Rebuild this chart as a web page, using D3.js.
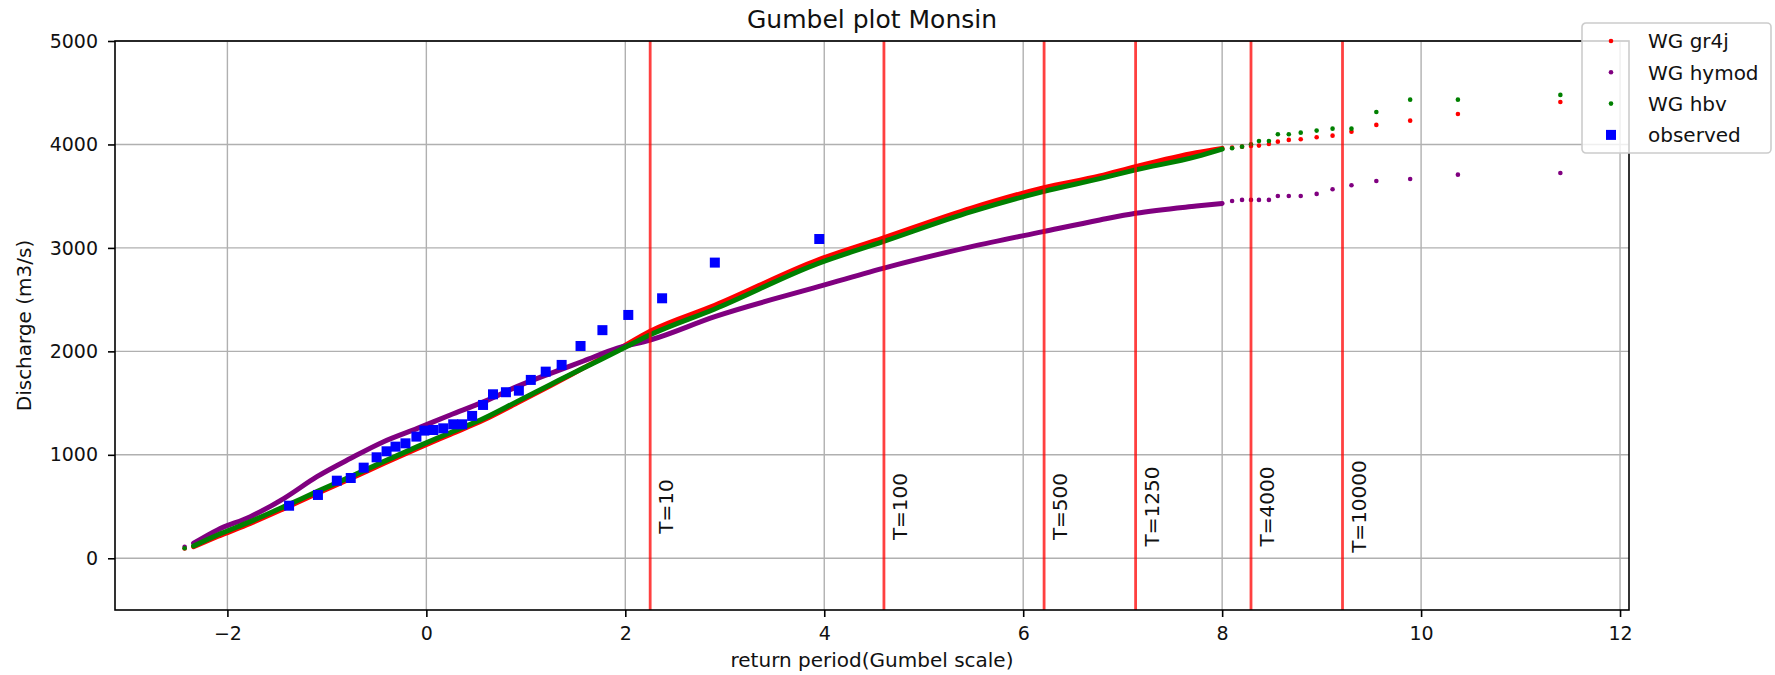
<!DOCTYPE html>
<html>
<head>
<meta charset="utf-8">
<script src="https://cdn.jsdelivr.net/npm/d3@7/dist/d3.min.js"></script>
<style>
    body { margin: 0; background: #fff; }
    #chart-area text { font-family: "DejaVu Sans", sans-serif; fill: #111; }
</style>
</head>
<body>
<div id="chart-area"></div>
<script>

// gumbel reduced variate where the simulated series are dense
let bandX = [-2.34, -2.10, -1.77, -1.43, -1.10, -0.76, -0.43, -0.09, 0.24, 0.58, 0.91, 1.25,
    1.58, 1.92, 2.25, 2.90, 3.94, 4.59, 5.48, 6.20, 6.77, 7.13, 7.74, 8.00];
let gr4jBand = [112, 210, 337, 481, 626, 771, 916, 1062, 1198, 1338, 1500, 1670,
    1840, 2015, 2195, 2445, 2885, 3095, 3385, 3580, 3695, 3785, 3920, 3962];
let hymodBand = [145, 274, 402, 580, 789, 967, 1127, 1256, 1385, 1514, 1659, 1788,
    1907, 2030, 2110, 2336, 2625, 2803, 3012, 3157, 3270, 3335, 3405, 3430];
let hbvBand = [119, 225, 354, 499, 644, 789, 934, 1079, 1214, 1353, 1514, 1680,
    1840, 2000, 2160, 2410, 2850, 3060, 3350, 3544, 3670, 3754, 3882, 3955];

// single points at both ends of the simulated series
let tailX = [-2.43, 8.10, 8.20, 8.29, 8.37, 8.47, 8.56, 8.67, 8.79, 8.95, 9.11, 9.30, 9.55, 9.89, 10.37, 11.40];
let gr4jTail = [95, 3969, 3979, 3985, 3989, 4005, 4027, 4044, 4050, 4070, 4085, 4124, 4189, 4230, 4295, 4411];
let hymodTail = [112, 3454, 3464, 3464, 3464, 3464, 3502, 3502, 3502, 3522, 3567, 3606, 3647, 3666, 3708, 3724];
let hbvTail = [97, 3963, 3979, 4002, 4034, 4034, 4098, 4098, 4114, 4134, 4153, 4153, 4314, 4433, 4433, 4479];

// observed annual maxima
let obsX = [-1.38, -1.09, -0.90, -0.76, -0.63, -0.50, -0.40, -0.31, -0.21, -0.10, -0.02, 0.07, 0.17,
    0.27, 0.36, 0.46, 0.57, 0.67, 0.80, 0.93, 1.05, 1.20, 1.36, 1.55, 1.77, 2.03, 2.37, 2.90, 3.95];
let obsY = [508, 612, 750, 776, 876, 976, 1034, 1079, 1111, 1176, 1234, 1240, 1256,
    1295, 1295, 1376, 1482, 1585, 1605, 1620, 1724, 1804, 1869, 2052, 2205, 2352, 2513, 2858, 3086];

// return periods
let returnPeriods = ["T=10", "T=100", "T=500", "T=1250", "T=4000", "T=10000"];
let returnX = [2.25, 4.60, 6.21, 7.13, 8.29, 9.21];

let xTicks = [-2, 0, 2, 4, 6, 8, 10, 12];
let yTicks = [0, 1000, 2000, 3000, 4000, 5000];

let seriesNames = ["WG gr4j", "WG hymod", "WG hbv", "observed"];
let seriesColors = ["red", "purple", "green", "blue"];


class GumbelVis {

    constructor(parentElement) {
        this.parentElement = parentElement;
        this.initVis();
    }

    initVis() {
        let vis = this;

        vis.margin = {top: 41, right: 146, bottom: 65, left: 115};
        vis.width = 1775 - vis.margin.left - vis.margin.right;
        vis.height = 675 - vis.margin.top - vis.margin.bottom;

        vis.root = d3.select("#" + vis.parentElement).append("svg")
            .attr("width", 1775)
            .attr("height", 675);

        vis.svg = vis.root.append("g")
            .attr("transform", `translate(${vis.margin.left}, ${vis.margin.top})`);

        vis.x = d3.scaleLinear()
            .domain([-3.13, 12.09])
            .range([0, vis.width]);

        vis.y = d3.scaleLinear()
            .domain([-500, 5000])
            .range([vis.height, 0]);

        vis.xAxis = d3.axisBottom(vis.x).tickValues(xTicks).tickSize(7).tickPadding(10)
            .tickFormat(d3.format("d"));
        vis.yAxis = d3.axisLeft(vis.y).tickValues(yTicks).tickSize(7).tickPadding(10)
            .tickFormat(d3.format("d"));

        vis.wrangleData();
    }

    wrangleData() {
        let vis = this;

        vis.bands = [gr4jBand, hymodBand, hbvBand].map((vals, i) => ({
            color: seriesColors[i],
            points: bandX.map((x, j) => ({x: x, y: vals[j]}))
        }));
        vis.tails = [gr4jTail, hymodTail, hbvTail].map((vals, i) => ({
            color: seriesColors[i],
            points: tailX.map((x, j) => ({x: x, y: vals[j]}))
        }));
        vis.observed = obsX.map((x, j) => ({x: x, y: obsY[j]}));
        vis.periods = returnX.map((x, j) => ({x: x, label: returnPeriods[j]}));

        vis.updateVis();
    }

    updateVis() {
        let vis = this;

        // grid
        vis.svg.append("g").selectAll("line").data(xTicks).enter().append("line")
            .attr("x1", d => vis.x(d)).attr("x2", d => vis.x(d))
            .attr("y1", 0).attr("y2", vis.height)
            .attr("stroke", "#b0b0b0").attr("stroke-width", 1.4);
        vis.svg.append("g").selectAll("line").data(yTicks).enter().append("line")
            .attr("y1", d => vis.y(d)).attr("y2", d => vis.y(d))
            .attr("x1", 0).attr("x2", vis.width)
            .attr("stroke", "#b0b0b0").attr("stroke-width", 1.4);

        let line = d3.line()
            .x(d => vis.x(d.x))
            .y(d => vis.y(d.y))
            .curve(d3.curveMonotoneX);

        // simulated series: red first, purple, green on top
        vis.bands.forEach((b, i) => {
            vis.svg.append("path")
                .datum(b.points)
                .attr("d", line)
                .attr("fill", "none")
                .attr("stroke", b.color)
                .attr("stroke-width", 5)
                .attr("stroke-linecap", "round")
                .attr("stroke-linejoin", "round");

            vis.svg.append("g").selectAll("circle").data(vis.tails[i].points).enter().append("circle")
                .attr("cx", d => vis.x(d.x))
                .attr("cy", d => vis.y(d.y))
                .attr("r", 2.3)
                .attr("fill", b.color);
        });

        vis.svg.append("g").selectAll("rect").data(vis.observed).enter().append("rect")
            .attr("x", d => vis.x(d.x) - 5)
            .attr("y", d => vis.y(d.y) - 5)
            .attr("width", 10).attr("height", 10)
            .attr("fill", "blue");

        // return period lines
        vis.svg.append("g").selectAll("line").data(vis.periods).enter().append("line")
            .attr("x1", d => vis.x(d.x)).attr("x2", d => vis.x(d.x))
            .attr("y1", 0).attr("y2", vis.height)
            .attr("stroke", "red").attr("stroke-opacity", 0.75).attr("stroke-width", 2.8);

        vis.svg.append("g").selectAll("text").data(vis.periods).enter().append("text")
            .attr("transform", d => `translate(${vis.x(d.x) + 23}, ${vis.y(500)}) rotate(-90)`)
            .attr("text-anchor", "middle")
            .style("font-size", "20px")
            .text(d => d.label);

        // axes
        let gx = vis.svg.append("g")
            .attr("class", "x-axis axis")
            .attr("transform", "translate(0," + vis.height + ")")
            .call(vis.xAxis);
        let gy = vis.svg.append("g")
            .attr("class", "y-axis axis")
            .call(vis.yAxis);
        [gx, gy].forEach(g => {
            g.select(".domain").remove();
            g.selectAll(".tick line").attr("stroke", "#000").attr("stroke-width", 1.6);
            g.selectAll(".tick text").style("font-size", "19px");
        });

        vis.svg.append("rect")
            .attr("width", vis.width).attr("height", vis.height)
            .attr("fill", "none").attr("stroke", "#000").attr("stroke-width", 1.6);

        // titles
        vis.root.append("text")
            .attr("x", vis.margin.left + vis.width / 2).attr("y", 27.5)
            .attr("text-anchor", "middle").style("font-size", "25px")
            .text("Gumbel plot Monsin");
        vis.root.append("text")
            .attr("x", vis.margin.left + vis.width / 2).attr("y", 667)
            .attr("text-anchor", "middle").style("font-size", "20px")
            .text("return period(Gumbel scale)");
        vis.root.append("text")
            .attr("transform", `translate(31, ${vis.margin.top + vis.height / 2}) rotate(-90)`)
            .attr("text-anchor", "middle").style("font-size", "20px")
            .text("Discharge (m3/s)");

        // legend
        let legend = vis.root.append("g").attr("transform", "translate(1582, 23)");
        legend.append("rect")
            .attr("width", 189).attr("height", 130).attr("rx", 4)
            .attr("fill", "#fff").attr("fill-opacity", 0.8)
            .attr("stroke", "#cccccc").attr("stroke-width", 1.6);

        let items = legend.selectAll(".item").data(seriesNames).enter().append("g")
            .attr("class", "item")
            .attr("transform", (d, i) => `translate(0, ${18 + i * 31.3})`);
        items.filter((d, i) => i < 3).append("circle")
            .attr("cx", 29).attr("cy", 0).attr("r", 2.3)
            .attr("fill", (d, i) => seriesColors[i]);
        items.filter((d, i) => i === 3).append("rect")
            .attr("x", 24).attr("y", -5).attr("width", 10).attr("height", 10)
            .attr("fill", seriesColors[3]);
        items.append("text")
            .attr("x", 66).attr("y", 7.3)
            .style("font-size", "20px")
            .text(d => d);
    }
}

new GumbelVis("chart-area");

</script>
</body>
</html>
